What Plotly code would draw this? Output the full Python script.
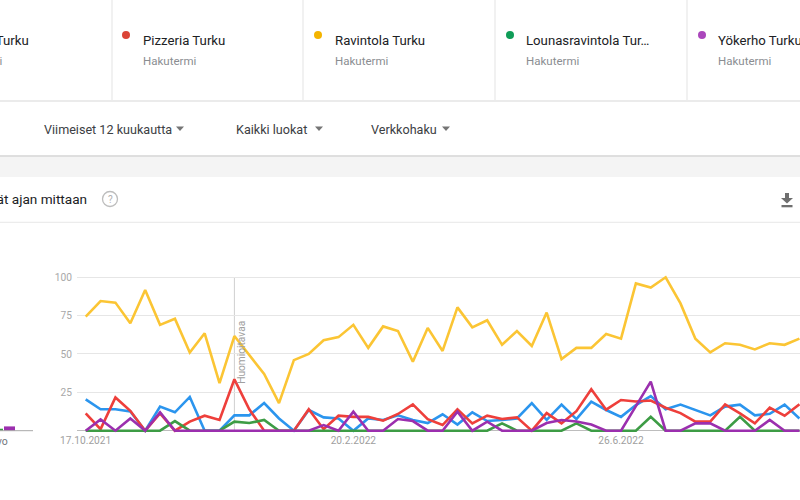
import plotly.graph_objects as go
import pandas as pd

# ---------------- data ----------------
start_date = "2021-10-17"
n_weeks = 49
weeks = pd.date_range(start_date, periods=n_weeks, freq="7D")

terms = ["Kahvila Turku", "Pizzeria Turku", "Ravintola Turku",
         "Lounasravintola Turku", "Yökerho Turku"]
card_labels = ["Kahvila Turku", "Pizzeria Turku", "Ravintola Turku",
               "Lounasravintola Tur…", "Yökerho Turku"]
card_subtitle = "Hakutermi"

blue = [20.4, 14, 14, 12.5, 0, 15.7, 12, 22, 0, 0, 10, 10, 18, 8, 0, 13.5, 8.7, 8, 0, 8,
        7, 10, 7, 5, 10.7, 4, 12, 6.3, 7, 8, 18, 7, 17, 7.5, 19, 13.5, 9, 16.7, 22.6, 14,
        17, 13.5, 10, 15.7, 17, 10, 11, 17, 8]
red = [11.3, 1, 21.7, 13, 0, 11.3, 0, 5.9, 9.8, 7, 33.5, 14, 0, 0, 0, 14, 1, 9.8, 9, 9,
       6.5, 10.9, 17.2, 7.5, 3.7, 13.9, 4.8, 9.8, 7.6, 8.7, 0, 11.5, 4.8, 12.7, 27, 13.7,
       20, 19, 19.7, 15, 11.5, 5.9, 5.9, 17.2, 11.3, 4.8, 15, 9.8, 17.2]
yellow = [74.3, 84.5, 83.5, 70, 91.7, 69, 73, 51, 63.5, 31, 61.7, 49, 37, 18, 46, 50, 59,
          61, 69, 54, 68, 65, 45, 67, 52, 80.4, 67.4, 72, 56, 65, 55.2, 77, 46.7, 54, 54,
          63, 60, 96, 93.3, 100, 83, 60, 51, 57, 56, 53, 57, 56, 60]
green = [0, 0, 0, 0, 0, 0, 6.3, 0, 0, 0, 5.9, 5, 7, 0, 0, 0, 0, 0, 0, 0,
         0, 0, 0, 0, 0, 0, 0, 0, 4.8, 0, 0, 0, 0, 4.8, 0, 0, 0, 0, 9, 0,
         0, 0, 0, 0, 9, 0, 0, 0, 0]
purple = [0, 7.4, 0, 8, 0, 12, 0, 0, 0, 0, 0, 0, 0, 0, 0, 0, 3.7, 0, 12.4, 0,
          0, 7.6, 6.3, 0, 0, 12.4, 0, 5.9, 0, 0, 0, 5, 7, 6, 4, 0, 0, 16, 32, 0,
          0, 4.8, 4.8, 0, 0, 0, 7, 0, 0]
series = [blue, red, yellow, green, purple]

avg_values = [10.5, 10.0, 63.0, 1.3, 2.8]
avg_label = "Keskiarvo"

note_week_index = 10
note_text = "Huomioitavaa"

x_tick_dates = ["2021-10-17", "2022-02-20", "2022-06-26"]
x_tick_labels = ["17.10.2021", "20.2.2022", "26.6.2022"]
y_tick_vals = [25, 50, 75, 100]

filters = ["Viimeiset 12 kuukautta", "Kaikki luokat", "Verkkohaku"]
title_text = "Hakumäärät ajan mittaan"

# ---------------- styling ----------------
line_colors = ["#2b95ee", "#ee3f3b", "#fbc534", "#3d9c45", "#9b2fae"]
dot_colors = ["#4285f4", "#db4437", "#f4b400", "#0f9d58", "#ab47bc"]
FONT = "Roboto"
W, H = 800, 500


def px(x):
    return x / W


def py(y):
    return 1 - y / H


# plot geometry (pixels)
plot_left, first_pt, step_px, plot_right = 77.0, 85.7, 14.87, 800.0
y_bottom_px, y_top_px = 430.7, 277.3
unit_px = (y_bottom_px - y_top_px) / 100.0
y_lo, y_hi = -1.5, 101.5
dom_bottom = y_bottom_px - y_lo * unit_px
dom_top = y_top_px - (y_hi - 100) * unit_px

t0 = pd.Timestamp(start_date)
x_range = [t0 + pd.Timedelta(days=7 * (plot_left - first_pt) / step_px),
           t0 + pd.Timedelta(days=7 * (plot_right - first_pt) / step_px)]

fig = go.Figure()

for name, vals, col in zip(terms, series, line_colors):
    fig.add_trace(go.Scatter(x=weeks, y=vals, mode="lines", name=name,
                             line=dict(color=col, width=2.6),
                             xaxis="x", yaxis="y", hoverinfo="skip"))

# average bars (left, mostly cut off)
bar_step = 12.0
bar_left_px, bar_right_px = 0.0, 33.0
purple_center_px = 9.5
r0 = 4 - purple_center_px / bar_step
fig.add_trace(go.Bar(x=list(range(len(avg_values))), y=avg_values,
                     marker=dict(color=line_colors, line=dict(width=0)),
                     width=11 / bar_step, xaxis="x2", yaxis="y2",
                     hoverinfo="skip", showlegend=False))

shapes = []
annotations = []

# --- header cards ---
for xv in [112, 303, 495, 687]:
    shapes.append(dict(type="line", xref="paper", yref="paper",
                       x0=px(xv), x1=px(xv), y0=py(0), y1=py(100),
                       line=dict(color="#e3e3e3", width=1)))
shapes.append(dict(type="line", xref="paper", yref="paper", x0=0, x1=1,
                   y0=py(101), y1=py(101), line=dict(color="#ebebeb", width=2)))

card_text_x = [31, 141, 333, 524, 716]
card_dot_x = [-200, 126, 318, 510, 702]
for i, (lbl, tx, dx) in enumerate(zip(card_labels, card_text_x, card_dot_x)):
    anchor = "right" if i == 0 else "left"
    annotations.append(dict(xref="paper", yref="paper", x=px(tx), y=py(40.5),
                            text=lbl, showarrow=False, xanchor=anchor, yanchor="middle",
                            font=dict(family=FONT, size=13.2, color="#202124")))
    sub_x = 3.5 if i == 0 else tx
    annotations.append(dict(xref="paper", yref="paper", x=px(sub_x), y=py(60.5),
                            text=card_subtitle, showarrow=False, xanchor=anchor,
                            yanchor="middle",
                            font=dict(family=FONT, size=11.5, color="#8a8d91")))
    if i > 0:
        shapes.append(dict(type="circle", xref="paper", yref="paper",
                           x0=px(dx - 4), x1=px(dx + 4), y0=py(35 + 4), y1=py(35 - 4),
                           fillcolor=dot_colors[i], line=dict(width=0)))

# --- filter row ---
filter_x = [42, 234, 369]
tri_x = [180, 319, 446]
for txt, fx, tx in zip(filters, filter_x, tri_x):
    annotations.append(dict(xref="paper", yref="paper", x=px(fx), y=py(129),
                            text=txt, showarrow=False, xanchor="left", yanchor="middle",
                            font=dict(family=FONT, size=12.6, color="#3c4043")))
    shapes.append(dict(type="path", xref="paper", yref="paper",
                       path=f"M {px(tx-4)} {py(126.5)} L {px(tx+4)} {py(126.5)} L {px(tx)} {py(131)} Z",
                       fillcolor="#757575", line=dict(width=0)))

# gray band between panels
shapes.append(dict(type="rect", xref="paper", yref="paper", x0=0, x1=1,
                   y0=py(177), y1=py(156.5), fillcolor="#f4f4f4", line=dict(width=0),
                   layer="below"))
shapes.append(dict(type="line", xref="paper", yref="paper", x0=0, x1=1,
                   y0=py(156), y1=py(156), line=dict(color="#d4d4d4", width=1.5)))

# --- chart card header ---
annotations.append(dict(xref="paper", yref="paper", x=px(89), y=py(199),
                        text=title_text, showarrow=False, xanchor="right", yanchor="middle",
                        font=dict(family=FONT, size=13.6, color="#202124")))
shapes.append(dict(type="circle", xref="paper", yref="paper",
                   x0=px(102.5), x1=px(117.5), y0=py(206.5), y1=py(191.5),
                   line=dict(color="#bdbdbd", width=1.3)))
annotations.append(dict(xref="paper", yref="paper", x=px(110), y=py(199.5),
                        text="?", showarrow=False, xanchor="center", yanchor="middle",
                        font=dict(family=FONT, size=10, color="#b0b0b0")))
# download icon
shapes.append(dict(type="path", xref="paper", yref="paper",
                   path=(f"M {px(785)} {py(193)} L {px(789)} {py(193)} L {px(789)} {py(198)} "
                         f"L {px(793)} {py(198)} L {px(787)} {py(203.5)} L {px(781)} {py(198)} "
                         f"L {px(785)} {py(198)} Z"),
                   fillcolor="#6f6f6f", line=dict(width=0)))
shapes.append(dict(type="rect", xref="paper", yref="paper",
                   x0=px(781.5), x1=px(792.5), y0=py(207.3), y1=py(205),
                   fillcolor="#6f6f6f", line=dict(width=0)))
shapes.append(dict(type="line", xref="paper", yref="paper", x0=0, x1=1,
                   y0=py(222.3), y1=py(222.3), line=dict(color="#ececec", width=1.2)))

# --- note line ---
note_x = weeks[note_week_index]
shapes.append(dict(type="line", xref="x", yref="y", x0=note_x, x1=note_x, y0=0, y1=100,
                   line=dict(color="#cfcfcf", width=1), layer="below"))
annotations.append(dict(xref="x", yref="y", x=note_x, y=51.0, text=note_text,
                        textangle=-90, showarrow=False, xshift=7,
                        xanchor="center", yanchor="middle",
                        font=dict(family=FONT, size=10.2, color="#a0a0a0")))

# --- average bars baseline & label ---
shapes.append(dict(type="line", xref="paper", yref="paper", x0=px(bar_left_px),
                   x1=px(bar_right_px), y0=py(430.7), y1=py(430.7),
                   line=dict(color="#a8a8a8", width=1)))
annotations.append(dict(xref="paper", yref="paper", x=px(10), y=py(441.5),
                        text=avg_label, showarrow=False, xanchor="right", yanchor="middle",
                        font=dict(family=FONT, size=10.5, color="#70757a")))

fig.update_layout(
    width=W, height=H, autosize=False,
    margin=dict(l=0, r=0, t=0, b=0, pad=0, autoexpand=False),
    paper_bgcolor="white", plot_bgcolor="white",
    showlegend=False, hovermode=False,
    font=dict(family=FONT),
    xaxis=dict(domain=[px(plot_left), 1.0], type="date", range=x_range,
               tickvals=x_tick_dates, ticktext=x_tick_labels, automargin=False,
               showgrid=False, zeroline=False, showline=False, ticks="",
               tickfont=dict(family=FONT, size=10.2, color="#a0a0a0"),
               fixedrange=True),
    yaxis=dict(domain=[py(dom_bottom), py(dom_top)], range=[y_lo, y_hi],
               tickvals=y_tick_vals, showgrid=True, gridcolor="#e6e6e6", gridwidth=1,
               zeroline=True, zerolinecolor="#bdbdbd", zerolinewidth=1,
               showline=False, ticks="", ticklabelstandoff=4, automargin=False,
               tickfont=dict(family=FONT, size=10.2, color="#a8a8a8"),
               fixedrange=True),
    xaxis2=dict(domain=[px(bar_left_px), px(bar_right_px)],
                range=[r0, r0 + (bar_right_px - bar_left_px) / bar_step],
                visible=False, anchor="y2", automargin=False),
    yaxis2=dict(domain=[py(dom_bottom), py(dom_top)], range=[y_lo, y_hi],
                visible=False, anchor="x2", automargin=False),
    shapes=shapes,
    annotations=annotations,
)

fig.write_html("out.html", config={"displayModeBar": False, "staticPlot": True})
